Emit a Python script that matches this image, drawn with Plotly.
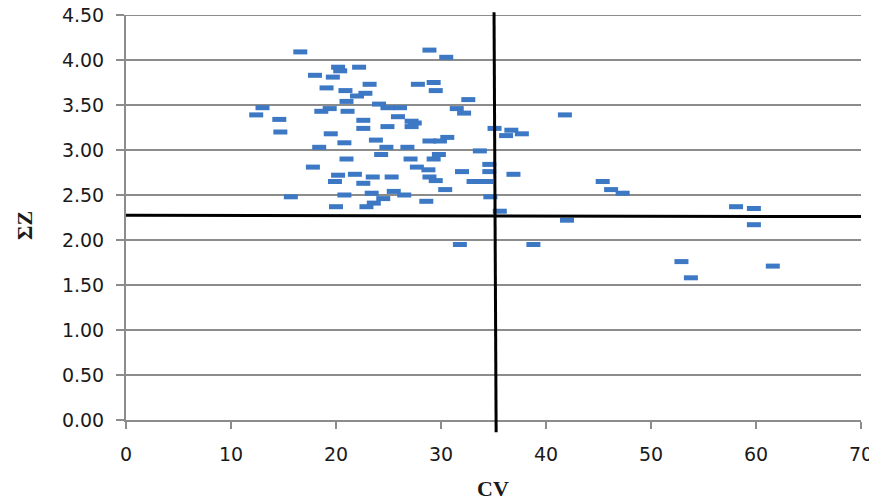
import plotly.graph_objects as go

cv = [16.6, 20.2, 20.4, 18.0, 19.7, 19.1, 20.9, 21.0, 13.0, 12.4,
      14.6, 18.6, 19.4, 21.1, 14.7, 19.5, 28.9, 30.5, 22.2, 23.2,
      27.8, 29.3, 29.5, 22.8, 22.0, 24.1, 24.9, 26.1, 25.9, 22.6,
      22.6, 24.9, 27.2, 27.5, 27.2, 32.6, 31.5, 32.2, 41.8, 35.1,
      36.7, 36.2, 37.7, 23.8, 28.9, 29.9, 30.6, 24.8, 26.8, 33.7,
      24.3, 27.1, 29.3, 29.8, 27.7, 28.8, 34.6, 32.0, 34.6, 36.9,
      23.5, 25.3, 28.9, 29.5, 33.1, 34.3, 30.4, 23.4, 25.5, 26.5,
      24.5, 23.6, 28.6, 34.7, 35.6, 42.0, 31.8, 38.8, 20.8, 21.0,
      21.8, 22.6, 20.8, 22.9, 18.4, 17.8, 20.2, 19.9, 15.7, 20.0,
      45.4, 46.2, 47.3, 58.1, 59.8, 59.8, 52.9, 53.8, 61.6]
sz = [4.09, 3.92, 3.88, 3.83, 3.81, 3.69, 3.66, 3.54, 3.47, 3.39,
      3.34, 3.43, 3.46, 3.43, 3.20, 3.18, 4.11, 4.03, 3.92, 3.73,
      3.73, 3.75, 3.66, 3.63, 3.60, 3.51, 3.47, 3.47, 3.37, 3.33,
      3.24, 3.26, 3.32, 3.30, 3.26, 3.56, 3.46, 3.41, 3.39, 3.24,
      3.22, 3.16, 3.18, 3.11, 3.10, 3.10, 3.14, 3.03, 3.03, 2.99,
      2.95, 2.90, 2.90, 2.95, 2.81, 2.78, 2.84, 2.76, 2.76, 2.73,
      2.70, 2.70, 2.70, 2.66, 2.65, 2.65, 2.56, 2.52, 2.54, 2.50,
      2.46, 2.41, 2.43, 2.48, 2.32, 2.22, 1.95, 1.95, 3.08, 2.90,
      2.73, 2.63, 2.50, 2.37, 3.03, 2.81, 2.72, 2.65, 2.48, 2.37,
      2.65, 2.56, 2.52, 2.37, 2.35, 2.17, 1.76, 1.58, 1.71]

# reference (threshold) lines
cv_cut = [35.05, 35.25]
sz_cut = [2.275, 2.26]

x_ticks = [0, 10, 20, 30, 40, 50, 60, 70]
y_ticks = [0, 0.5, 1.0, 1.5, 2.0, 2.5, 3.0, 3.5, 4.0, 4.5]
y_tick_text = ["%.2f" % v for v in y_ticks]

grid_col = "#8c8c8c"
tick_font = dict(family="DejaVu Sans", size=19, color="#1a1a1a")

# page body adds an 8px offset; figure sized so plot area lands where the reference has it
W, H = 869, 495
ML, MR, MT, MB = 118, 16, 7, 83
PW, PH = W - ML - MR, H - MT - MB

fig = go.Figure()
fig.add_trace(go.Scatter(
    x=cv, y=sz, mode="markers",
    marker=dict(symbol="line-ew", size=10,
                line=dict(color="#3c78c4", width=5)),
    hoverinfo="x+y", showlegend=False, cliponaxis=False))

# top gridline (plotly drops the grid line sitting on the range end)
fig.add_shape(type="line", xref="paper", yref="y",
              x0=0, x1=1, y0=y_ticks[-1], y1=y_ticks[-1], layer="below",
              line=dict(color=grid_col, width=2))
fig.add_shape(type="line", xref="x", yref="paper",
              x0=cv_cut[0], x1=cv_cut[1], y0=1.007, y1=-0.03,
              line=dict(color="black", width=3))
fig.add_shape(type="line", xref="x", yref="y",
              x0=0, x1=70.1, y0=sz_cut[0], y1=sz_cut[1],
              line=dict(color="black", width=3))

fig.update_layout(
    width=W, height=H,
    margin=dict(l=ML, r=MR, t=MT, b=MB),
    paper_bgcolor="white", plot_bgcolor="white",
    xaxis=dict(range=[0, 70], tickvals=x_ticks, ticktext=[str(v) for v in x_ticks],
               showgrid=False, zeroline=False, automargin=False,
               ticklabeloverflow="allow",
               showline=True, linecolor=grid_col, linewidth=2,
               ticks="outside", ticklen=7, tickwidth=2, tickcolor=grid_col,
               tickfont=tick_font, ticklabelstandoff=9),
    yaxis=dict(range=[0, 4.5], tickvals=y_ticks, ticktext=y_tick_text,
               showgrid=True, gridcolor=grid_col, gridwidth=2, zeroline=False,
               automargin=False, ticklabeloverflow="allow",
               showline=True, linecolor=grid_col, linewidth=2,
               ticks="outside", ticklen=8, tickwidth=2, tickcolor=grid_col,
               tickfont=tick_font, ticklabelstandoff=8),
    annotations=[
        dict(text="<b>ΣZ</b>", xref="paper", yref="paper",
             x=-(126 - 24) / PW, y=(420 - 226) / PH,
             xanchor="center", yanchor="middle",
             showarrow=False, textangle=-90,
             font=dict(family="Liberation Serif", size=22, color="#1a1a1a")),
        dict(text="<b>CV</b>", xref="paper", yref="paper",
             x=(493 - 126) / PW, y=(420 - 488) / PH,
             xanchor="center", yanchor="middle",
             showarrow=False,
             font=dict(family="Liberation Serif", size=22, color="#1a1a1a")),
    ],
)

fig.write_html("out.html")
